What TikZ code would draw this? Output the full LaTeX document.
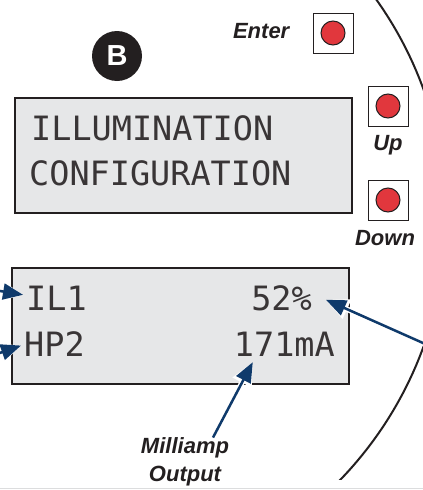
\documentclass[tikz,border=0pt]{standalone}
\usepackage{fontspec}
\setmainfont{Liberation Sans}
\newfontfamily\lcdfont{DejaVu Sans Mono}
\usepackage{tikz}
\usetikzlibrary{arrows.meta, positioning}
\definecolor{inkgray}{HTML}{231F20}
\definecolor{lcdgray}{HTML}{E6E7E8}
\definecolor{lampred}{HTML}{E1373D}
\definecolor{pointerblue}{HTML}{0F3A6B}
\definecolor{rulegray}{HTML}{DCDDDE}

\begin{document}
\begin{tikzpicture}[
  x=1pt, y=-1pt,
  caption/.style={font=\fontsize{22}{28}\selectfont\bfseries\itshape,text=inkgray,inner sep=0pt,align=center},
  lcd/.style={draw=inkgray,line width=1.6pt,fill=lcdgray,anchor=north west,inner sep=0pt,minimum width=337pt},
  lcdtext/.style={font=\lcdfont\fontsize{33.5}{36}\selectfont,text=inkgray!90,inner sep=0pt},
  button/.style={draw=inkgray,line width=1pt,fill=white,minimum size=40pt,inner sep=0pt},
  lamp/.style={circle,draw=inkgray,line width=1pt,fill=lampred,minimum size=24pt,inner sep=0pt},
  arr/.style={-{Triangle[length=20pt,width=16pt]},draw=pointerblue,fill=pointerblue,line width=2.5pt,
    preaction={draw=white,line width=5.5pt,-{Triangle[length=23pt,width=20pt]}}}
]
\useasboundingbox (0,0) rectangle (423,490);
\begin{scope}
  \clip (0,0) rectangle (423,479);
  \draw[inkgray,line width=2pt] (69,218) circle[radius=377];
\end{scope}
\draw[rulegray,line width=1.5pt] (0,488.5) -- (423,488.5);

\node[circle,fill=inkgray,minimum size=50pt,text=white,inner sep=0pt,font=\fontsize{29}{29}\selectfont\bfseries] (badge) at (117,56) {B};

\node[button] (enterBtn) at (333,33) {};
\node[lamp] (enterLamp) at (enterBtn) {};
\node[caption,left=23pt of enterBtn,yshift=1.5pt] (enterLbl) {Enter};
\node[button] (upBtn) at (388,106) {};
\node[lamp] (upLamp) at (upBtn) {};
\node[caption,below=9pt of upBtn] (upLbl) {Up};
\node[button] (downBtn) at (388,200) {};
\node[lamp] (downLamp) at (downBtn) {};
\node[caption,below=10pt of downBtn,xshift=-3pt] (downLbl) {Down};

\node[lcd,minimum height=115pt] (topLcd) at (14,97) {};
\node[lcdtext,anchor=base west] (illum) at (31,140) {ILLUMINATION};
\node[lcdtext,anchor=base west] (config) at (29,185) {CONFIGURATION};

\node[lcd,minimum height=116pt] (botLcd) at (11,267) {};
\node[lcdtext,anchor=base west] (il) at (26,310) {IL1};
\node[lcdtext,anchor=base west] (hp) at (24,356) {HP2};
\node[lcdtext,anchor=base east] (pct) at (312,310) {52\%};
\node[lcdtext,anchor=base east] (ma) at (335,356) {171mA};

\node[caption] (milliLbl) at (185,462) {Milliamp\\Output};

\coordinate (ilSrc) at (-6,290);
\coordinate (hpSrc) at (-6,355);
\coordinate (pctSrc) at (432,347);
\draw[arr] (ilSrc) -- ([xshift=-3pt,yshift=3pt]il.west);
\draw[arr] (hpSrc) -- ([xshift=-3pt,yshift=-2pt]hp.west);
\draw[arr] (pctSrc) -- ([xshift=14pt,yshift=-2pt]pct.east);
\draw[arr] ([xshift=28pt]milliLbl.north) -- ([xshift=19pt,yshift=-6pt]ma.south west);
\end{tikzpicture}
\end{document}
